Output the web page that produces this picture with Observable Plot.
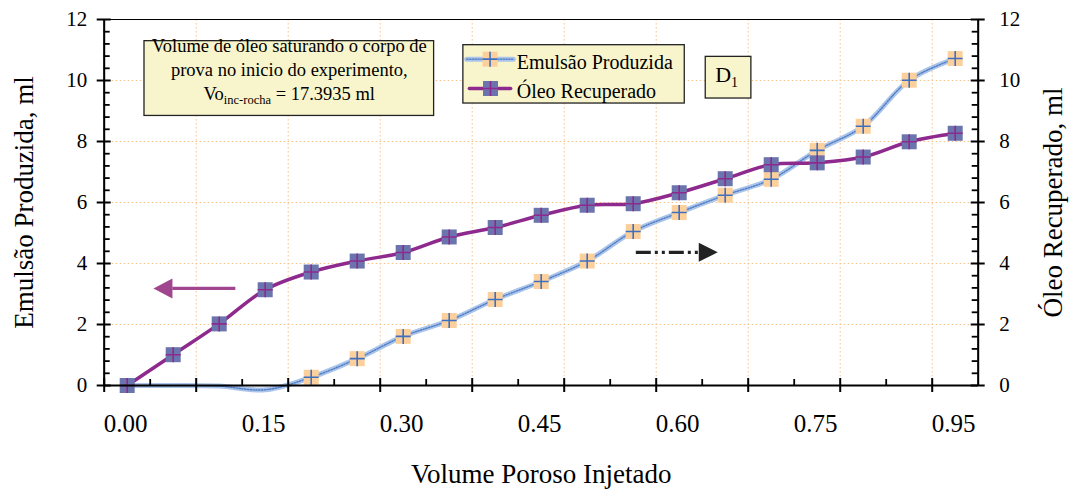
<!DOCTYPE html>
<html><head><meta charset="utf-8">
<script src="https://cdn.jsdelivr.net/npm/d3@7"></script>
<script src="https://cdn.jsdelivr.net/npm/@observablehq/plot@0.6"></script>
<style>body{margin:0;background:#fff}#chart{width:1072px;height:491px}</style>
</head><body><div id="chart"></div>
<script>
// ---- data ----
const pv = ["0.00","0.05","0.10","0.15","0.20","0.25","0.30","0.35","0.40","0.45","0.50","0.55","0.60","0.65","0.70","0.75","0.80","0.88","0.95"];
const emulsao = [0,0,-0.02,-0.14,0.27,0.88,1.61,2.13,2.82,3.41,4.08,5.05,5.67,6.24,6.76,7.71,8.50,10.01,10.72];
const oleo = [0,1.01,2.02,3.14,3.72,4.08,4.36,4.87,5.18,5.58,5.91,5.96,6.32,6.78,7.24,7.30,7.49,7.99,8.27];
const xLabelIdx = [0,3,6,9,12,15,18];
const yTicks = [0,2,4,6,8,10,12];
const xTitle = "Volume Poroso Injetado";
const yTitleL = "Emulsão Produzida, ml";
const yTitleR = "Óleo Recuperado, ml";
const seriesNames = ["Emulsão Produzida","Óleo Recuperado"];
const noteLine1 = "Volume de óleo saturando o corpo de";
const noteLine2 = "prova no inicio do experimento,";
const voMain = "Vo", voSub = "inc-rocha", voRest = " = 17.3935 ml";
const dMain = "D", dSub = "1";

// ---- styles ----
const FONT = "'Liberation Serif','Times New Roman',serif";
const purple = "#8e2a8e", markPurple = "#6b74ad";
const peach = "#fcd09c", blue = "#3f6fbf";
const lineBlue = "#aac4ea", dotBlue = "#4f7cc4";
const gridColor = "#f5c28c";
const boxFill = "#f8f5cc";

const idx = d3.range(pv.length);
const dataE = idx.map(i => ({i, v: emulsao[i]}));
const dataO = idx.map(i => ({i, v: oleo[i]}));
const markE = dataE.filter(d => d.v > 0);

const plusSym = {draw(ctx){ const r = 7.5; ctx.moveTo(-r,0); ctx.lineTo(r,0); ctx.moveTo(0,-r); ctx.lineTo(0,r); }};
const squareSym = {draw(ctx){ const r = 7.5; ctx.moveTo(-r,-r); ctx.lineTo(r,-r); ctx.lineTo(r,r); ctx.lineTo(-r,r); ctx.closePath(); }};
const leftTri = {draw(ctx){ ctx.moveTo(-9.5,0); ctx.lineTo(9.5,-10); ctx.lineTo(9.5,10); ctx.closePath(); }};
const rightTri = {draw(ctx){ ctx.moveTo(9.5,0); ctx.lineTo(-9.5,-9.5); ctx.lineTo(-9.5,9.5); ctx.closePath(); }};

const majorX = d3.range(-0.5, 18, 2);
const minorX = d3.range(0.5, 18, 2);
const minorY = d3.range(0, 12.01, 0.4).filter(v => Math.abs(v/2 - Math.round(v/2)) > 0.01);
const gridY = [2,4,6,8,10];
const gridX = majorX.slice(1);

// annotation placements (data units)
const noteBox = {x1:0.376, x2:6.672, y1:8.838, y2:11.29};
const noteCX = 3.524, noteY = [11.12, 10.34, 9.55];
const legBox = {x1:7.308, x2:12.121, y1:9.245, y2:11.158};
const legE = {x1:7.382, x2:8.394, xm:7.888, y:10.70, ty:10.60};
const legO = {x1:7.438, x2:8.337, xm:7.898, y:9.737, ty:9.64};
const legTX = 8.467;
const dBox = {x1:12.577, x2:13.569, y1:9.409, y2:10.775};
const dText = {x:13.03, y:10.17};
const arrowL = {x1:2.351, x2:0.98, head:0.777, y:3.183};
const arrowR = {x1:11.057, x2:12.447, head:12.631, y:4.365};

function lineE(data, opts) {
  return [
    Plot.line(data, {...opts, curve:"catmull-rom", stroke:lineBlue, strokeWidth:5}),
    Plot.line(data, {...opts, curve:"catmull-rom", stroke:dotBlue, strokeWidth:1.4, strokeDasharray:"1.3,1.5"})
  ];
}
function markers(data, opts, fill, plus) {
  return [
    Plot.dot(data, {...opts, symbol:squareSym, fill, stroke:null}),
    Plot.dot(data, {...opts, symbol:plusSym, fill:"none", stroke:plus, strokeWidth:1.6})
  ];
}

const plot = Plot.plot({
  width:1072, height:491,
  marginLeft:103.7, marginRight:94.3, marginTop:19, marginBottom:106,
  x:{type:"linear", domain:[-0.5,18.5], axis:null},
  y:{type:"linear", domain:[0,12], axis:null},
  style:{fontFamily:FONT, color:"#000", background:"#fff", overflow:"visible"},
  marks:[
    Plot.ruleY(gridY, {stroke:gridColor, strokeDasharray:"1.5,2.5", strokeWidth:1}),
    Plot.ruleX(gridX, {stroke:gridColor, strokeDasharray:"1.5,2.5", strokeWidth:1}),
    // note box
    Plot.rect([noteBox], {x1:"x1", x2:"x2", y1:"y1", y2:"y2", fill:boxFill, stroke:"#222", strokeWidth:1.3}),
    Plot.text([noteLine1, noteLine2, voMain+voSub+voRest], {x:noteCX, y:(d,i)=>noteY[i], text:d=>d, fontSize:18.5, fill:"#000", fontFamily:FONT}),
    // legend box
    Plot.rect([legBox], {x1:"x1", x2:"x2", y1:"y1", y2:"y2", fill:boxFill, stroke:"#222", strokeWidth:1.3}),
    ...lineE([{x:legE.x1,y:legE.y},{x:legE.x2,y:legE.y}], {x:"x", y:"y"}),
    ...markers([{x:legE.xm,y:legE.y}], {x:"x", y:"y"}, peach, blue),
    Plot.line([{x:legO.x1,y:legO.y},{x:legO.x2,y:legO.y}], {x:"x", y:"y", stroke:purple, strokeWidth:3.5}),
    ...markers([{x:legO.xm,y:legO.y}], {x:"x", y:"y"}, markPurple, purple),
    Plot.text(seriesNames, {x:legTX, y:(d,i)=>[legE.ty, legO.ty][i], text:d=>d, textAnchor:"start", fontSize:20, fill:"#000", fontFamily:FONT}),
    // D1 box
    Plot.rect([dBox], {x1:"x1", x2:"x2", y1:"y1", y2:"y2", fill:boxFill, stroke:"#222", strokeWidth:1.3}),
    Plot.text([dMain+dSub], {x:dText.x, y:dText.y, text:d=>d, fontSize:22, fill:"#000", fontFamily:FONT}),
    // arrows
    Plot.link([arrowL], {x1:"x1", x2:"x2", y1:"y", y2:"y", stroke:"#a0468f", strokeWidth:3.3}),
    Plot.dot([arrowL], {x:"head", y:"y", symbol:leftTri, fill:"#a0468f", stroke:null}),
    Plot.link([arrowR], {x1:"x1", x2:"x2", y1:"y", y2:"y", stroke:"#222", strokeWidth:3.2, strokeDasharray:"15,4,3,4,3,4"}),
    Plot.dot([arrowR], {x:"head", y:"y", symbol:rightTri, fill:"#222", stroke:null}),
    // series
    ...lineE(dataE, {x:"i", y:"v"}),
    ...markers(markE, {x:"i", y:"v"}, peach, blue),
    Plot.line(dataO, {x:"i", y:"v", curve:"catmull-rom", stroke:purple, strokeWidth:3.5}),
    ...markers(dataO, {x:"i", y:"v"}, markPurple, purple),
    // frame & axes
    Plot.frame({stroke:"#000", strokeWidth:1}),
    Plot.ruleX([-0.5, 18.5], {stroke:"#000", strokeWidth:2}),
    Plot.ruleY([0], {stroke:"#000", strokeWidth:2}),
    Plot.tickY(yTicks, {y:d=>d, insetLeft:-7, insetRight:867, stroke:"#000", strokeWidth:2}),
    Plot.tickY(minorY, {y:d=>d, insetLeft:0, insetRight:868, stroke:"#000", strokeWidth:1.8}),
    Plot.tickY(yTicks, {y:d=>d, insetLeft:867, insetRight:-7, stroke:"#000", strokeWidth:2}),
    Plot.tickY(minorY, {y:d=>d, insetLeft:868, insetRight:0, stroke:"#000", strokeWidth:1.8}),
    Plot.tickX(majorX, {x:d=>d, insetTop:359, insetBottom:-7, stroke:"#000", strokeWidth:2}),
    Plot.tickX(minorX, {x:d=>d, insetTop:360, insetBottom:0, stroke:"#000", strokeWidth:1.8}),
    // tick labels
    Plot.text(yTicks, {y:d=>d, text:d=>String(d), frameAnchor:"left", dx:-17, textAnchor:"end", lineAnchor:"middle", fontSize:21, fill:"#000", fontFamily:FONT}),
    Plot.text(yTicks, {y:d=>d, text:d=>String(d), frameAnchor:"right", dx:21, textAnchor:"start", lineAnchor:"middle", fontSize:21, fill:"#000", fontFamily:FONT}),
    Plot.text(xLabelIdx, {x:d=>d, text:d=>pv[d], frameAnchor:"bottom", lineAnchor:"top", dy:29, dx:-1.5, fontSize:25, fill:"#000", fontFamily:FONT}),
    // titles
    Plot.text([xTitle], {text:d=>d, frameAnchor:"bottom", dy:88.4, textAnchor:"middle", lineAnchor:"middle", fontSize:27, fill:"#000", fontFamily:FONT}),
    Plot.text([yTitleL], {text:d=>d, frameAnchor:"left", dx:-79.5, rotate:-90, textAnchor:"middle", lineAnchor:"middle", fontSize:27, fill:"#000", fontFamily:FONT}),
    Plot.text([yTitleR], {text:d=>d, frameAnchor:"right", dx:75, rotate:-90, textAnchor:"middle", lineAnchor:"middle", fontSize:27, fill:"#000", fontFamily:FONT})
  ]
});

// subscripts
d3.select(plot).selectAll("text").each(function(){
  const t = d3.select(this);
  if (this.textContent === voMain+voSub+voRest) {
    t.text(null);
    t.append("tspan").text(voMain);
    t.append("tspan").attr("font-size","12.5px").attr("dy","4").text(voSub);
    t.append("tspan").attr("dy","-4").text(voRest);
  } else if (this.textContent === dMain+dSub) {
    t.text(null);
    t.append("tspan").text(dMain);
    t.append("tspan").attr("font-size","14px").attr("dy","5").text(dSub);
  }
});
document.getElementById("chart").append(plot);
</script></body></html>
